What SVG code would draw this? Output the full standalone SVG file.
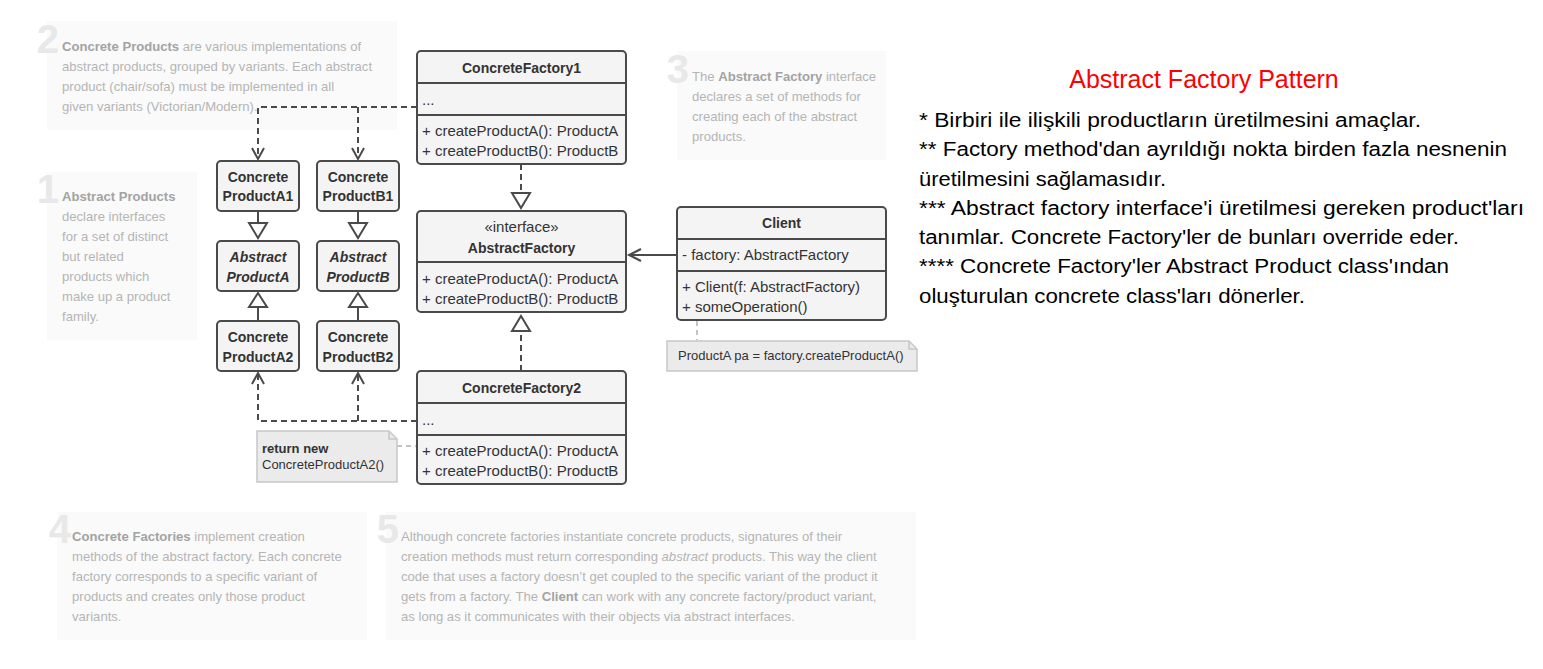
<svg xmlns="http://www.w3.org/2000/svg" width="1543" height="669" viewBox="0 0 1543 669">
<style>
.note{fill:#fafafa;stroke:none}
.digit{font-family:"Liberation Sans",Arial,sans-serif;font-weight:bold;font-size:40px;fill:#e8e8e8;text-anchor:end}
.nt{font-family:"Liberation Sans",Arial,sans-serif;font-size:13.1px;fill:#b5b5b5}
.nb{font-weight:bold;fill:#a3a3a3}
.box{fill:#f4f4f4;stroke:#4a4a4a;stroke-width:2}
.sep{stroke:#4a4a4a;stroke-width:2}
.t{font-family:"Liberation Sans",Arial,sans-serif;font-size:15px;fill:#333}
.tb{font-family:"Liberation Sans",Arial,sans-serif;font-size:14px;font-weight:bold;fill:#333;text-anchor:middle}
.ti{font-style:italic}
.cm{font-family:"Liberation Sans",Arial,sans-serif;font-size:13px;fill:#333}
.cmnote{fill:#ebebeb;stroke:#c8c8c8;stroke-width:1.5}
.dash{fill:none;stroke:#4a4a4a;stroke-width:2;stroke-dasharray:6 4}
.solid{fill:none;stroke:#4a4a4a;stroke-width:2}
.tri{fill:#ffffff;stroke:#4a4a4a;stroke-width:2;stroke-linejoin:miter}
.ldash{fill:none;stroke:#c4c4c4;stroke-width:2;stroke-dasharray:5 4}
.rt{font-family:"Liberation Sans",Arial,sans-serif;font-size:20px;fill:#000}
</style>

<!-- Notes -->
<g id="note2">
<rect class="note" x="47" y="21" width="350" height="109"/>
<text class="digit" x="59" y="53">2</text>
<text class="nt" x="62" y="51"><tspan class="nb">Concrete Products</tspan> are various implementations of</text>
<text class="nt" x="62" y="71">abstract products, grouped by variants. Each abstract</text>
<text class="nt" x="62" y="91">product (chair/sofa) must be implemented in all</text>
<text class="nt" x="62" y="111">given variants (Victorian/Modern).</text>
</g>
<g id="note1">
<rect class="note" x="47" y="172" width="150" height="168"/>
<text class="digit" x="59" y="203">1</text>
<text class="nt" x="62" y="201"><tspan class="nb">Abstract Products</tspan></text>
<text class="nt" x="62" y="221">declare interfaces</text>
<text class="nt" x="62" y="241">for a set of distinct</text>
<text class="nt" x="62" y="261">but related</text>
<text class="nt" x="62" y="281">products which</text>
<text class="nt" x="62" y="301">make up a product</text>
<text class="nt" x="62" y="321">family.</text>
</g>
<g id="note3">
<rect class="note" x="677" y="51" width="209" height="109"/>
<text class="digit" x="689" y="83">3</text>
<text class="nt" x="692" y="81">The <tspan class="nb">Abstract Factory</tspan> interface</text>
<text class="nt" x="692" y="101">declares a set of methods for</text>
<text class="nt" x="692" y="121">creating each of the abstract</text>
<text class="nt" x="692" y="141">products.</text>
</g>
<g id="note4">
<rect class="note" x="57" y="512" width="310" height="128"/>
<text class="digit" x="71" y="543">4</text>
<text class="nt" x="72" y="541"><tspan class="nb">Concrete Factories</tspan> implement creation</text>
<text class="nt" x="72" y="561">methods of the abstract factory. Each concrete</text>
<text class="nt" x="72" y="581">factory corresponds to a specific variant of</text>
<text class="nt" x="72" y="601">products and creates only those product</text>
<text class="nt" x="72" y="621">variants.</text>
</g>
<g id="note5">
<rect class="note" x="386" y="512" width="530" height="128"/>
<text class="digit" x="399" y="543">5</text>
<text class="nt" x="401" y="541">Although concrete factories instantiate concrete products, signatures of their</text>
<text class="nt" x="401" y="561">creation methods must return corresponding <tspan class="ti">abstract</tspan> products. This way the client</text>
<text class="nt" x="401" y="581">code that uses a factory doesn’t get coupled to the specific variant of the product it</text>
<text class="nt" x="401" y="601">gets from a factory. The <tspan class="nb">Client</tspan> can work with any concrete factory/product variant,</text>
<text class="nt" x="401" y="621">as long as it communicates with their objects via abstract interfaces.</text>
</g>

<!-- Connectors -->
<g id="connectors">
<path class="dash" d="M417,107 H258 V159"/>
<path class="dash" d="M358,107 V159"/>
<path class="solid" d="M252,148 L258,159 L264,148 M352,148 L358,159 L364,148"/>
<path class="dash" d="M417,421 H258 V373"/>
<path class="dash" d="M358,421 V373"/>
<path class="solid" d="M252,384 L258,373 L264,384 M352,384 L358,373 L364,384"/>
<path class="dash" d="M521,164 V193"/>
<polygon class="tri" points="512,193 530,193 521,208"/>
<path class="dash" d="M521,371 V331"/>
<polygon class="tri" points="512,331 530,331 521,316"/>
<path class="solid" d="M258,211 V223 M358,211 V223 M258,321 V307 M358,321 V307"/>
<polygon class="tri" points="249,223 267,223 258,238"/>
<polygon class="tri" points="349,223 367,223 358,238"/>
<polygon class="tri" points="249,307 267,307 258,293"/>
<polygon class="tri" points="349,307 367,307 358,293"/>
<path class="solid" d="M677,255 H629 M641,249 L629,255 L641,261"/>
<path class="ldash" d="M697,321 V340"/>
<path class="ldash" d="M397,446 H416"/>
</g>

<!-- Product boxes -->
<g id="ConcreteProductA1">
<rect class="box" x="217" y="161" width="82" height="50" rx="4"/>
<text class="tb" x="258" y="182">Concrete</text>
<text class="tb" x="258" y="201">ProductA1</text>
</g>
<g id="ConcreteProductB1">
<rect class="box" x="317" y="161" width="82" height="50" rx="4"/>
<text class="tb" x="358" y="182">Concrete</text>
<text class="tb" x="358" y="201">ProductB1</text>
</g>
<g id="AbstractProductA">
<rect class="box" x="217" y="241" width="82" height="50" rx="4"/>
<text class="tb ti" x="258" y="262">Abstract</text>
<text class="tb ti" x="258" y="282">ProductA</text>
</g>
<g id="AbstractProductB">
<rect class="box" x="317" y="241" width="82" height="50" rx="4"/>
<text class="tb ti" x="358" y="262">Abstract</text>
<text class="tb ti" x="358" y="282">ProductB</text>
</g>
<g id="ConcreteProductA2">
<rect class="box" x="217" y="321" width="82" height="50" rx="4"/>
<text class="tb" x="258" y="342">Concrete</text>
<text class="tb" x="258" y="362">ProductA2</text>
</g>
<g id="ConcreteProductB2">
<rect class="box" x="317" y="321" width="82" height="50" rx="4"/>
<text class="tb" x="358" y="342">Concrete</text>
<text class="tb" x="358" y="362">ProductB2</text>
</g>

<!-- Factories -->
<g id="ConcreteFactory1">
<rect class="box" x="417" y="51" width="209" height="113" rx="4"/>
<line class="sep" x1="417" y1="83" x2="626" y2="83"/>
<line class="sep" x1="417" y1="115" x2="626" y2="115"/>
<text class="tb" x="521.5" y="73">ConcreteFactory1</text>
<text class="t" x="422" y="105">...</text>
<text class="t" x="422" y="136">+ createProductA(): ProductA</text>
<text class="t" x="422" y="156">+ createProductB(): ProductB</text>
</g>
<g id="AbstractFactory">
<rect class="box" x="417" y="211" width="209" height="101" rx="4"/>
<line class="sep" x1="417" y1="262" x2="626" y2="262"/>
<text class="t" x="521.5" y="232" text-anchor="middle">«interface»</text>
<text class="tb" x="521.5" y="253">AbstractFactory</text>
<text class="t" x="422" y="284">+ createProductA(): ProductA</text>
<text class="t" x="422" y="304">+ createProductB(): ProductB</text>
</g>
<g id="ConcreteFactory2">
<rect class="box" x="417" y="371" width="209" height="113" rx="4"/>
<line class="sep" x1="417" y1="403" x2="626" y2="403"/>
<line class="sep" x1="417" y1="435" x2="626" y2="435"/>
<text class="tb" x="521.5" y="393">ConcreteFactory2</text>
<text class="t" x="422" y="425">...</text>
<text class="t" x="422" y="456">+ createProductA(): ProductA</text>
<text class="t" x="422" y="476">+ createProductB(): ProductB</text>
</g>
<g id="Client">
<rect class="box" x="677" y="207" width="209" height="113" rx="4"/>
<line class="sep" x1="677" y1="239" x2="886" y2="239"/>
<line class="sep" x1="677" y1="271" x2="886" y2="271"/>
<text class="tb" x="781.5" y="228">Client</text>
<text class="t" x="682" y="260">- factory: AbstractFactory</text>
<text class="t" x="682" y="292">+ Client(f: AbstractFactory)</text>
<text class="t" x="682" y="312">+ someOperation()</text>
</g>

<!-- Comment notes -->
<g id="clientNote">
<path class="cmnote" d="M667,341 H909 L917,349 V371 H667 Z"/>
<path fill="none" stroke="#c8c8c8" stroke-width="1.5" d="M909,341 V349 H917"/>
<text class="cm" x="678" y="360">ProductA pa = factory.createProductA()</text>
</g>
<g id="returnNote">
<path class="cmnote" d="M257,431 H389 L397,439 V482 H257 Z"/>
<path fill="none" stroke="#c8c8c8" stroke-width="1.5" d="M389,431 V439 H397"/>
<text class="cm" x="262" y="453" font-weight="bold">return new</text>
<text class="cm" x="262" y="469">ConcreteProductA2()</text>
</g>

<!-- Right side description -->
<g id="description">
<text x="1204" y="88" text-anchor="middle" font-family="'Liberation Sans',Arial,sans-serif" font-size="25px" fill="#ff0000">Abstract Factory Pattern</text>
<text class="rt" x="919" y="127" textLength="502" lengthAdjust="spacingAndGlyphs">* Birbiri ile ilişkili productların üretilmesini amaçlar.</text>
<text class="rt" x="919" y="156" textLength="588" lengthAdjust="spacingAndGlyphs">** Factory method'dan ayrıldığı nokta birden fazla nesnenin</text>
<text class="rt" x="919" y="186" textLength="247" lengthAdjust="spacingAndGlyphs">üretilmesini sağlamasıdır.</text>
<text class="rt" x="919" y="215" textLength="605" lengthAdjust="spacingAndGlyphs">*** Abstract factory interface'i üretilmesi gereken product'ları</text>
<text class="rt" x="919" y="244" textLength="540" lengthAdjust="spacingAndGlyphs">tanımlar. Concrete Factory'ler de bunları override eder.</text>
<text class="rt" x="919" y="273" textLength="530" lengthAdjust="spacingAndGlyphs">**** Concrete Factory'ler Abstract Product class'ından</text>
<text class="rt" x="919" y="303" textLength="386" lengthAdjust="spacingAndGlyphs">oluşturulan concrete class'ları dönerler.</text>
</g>
</svg>
